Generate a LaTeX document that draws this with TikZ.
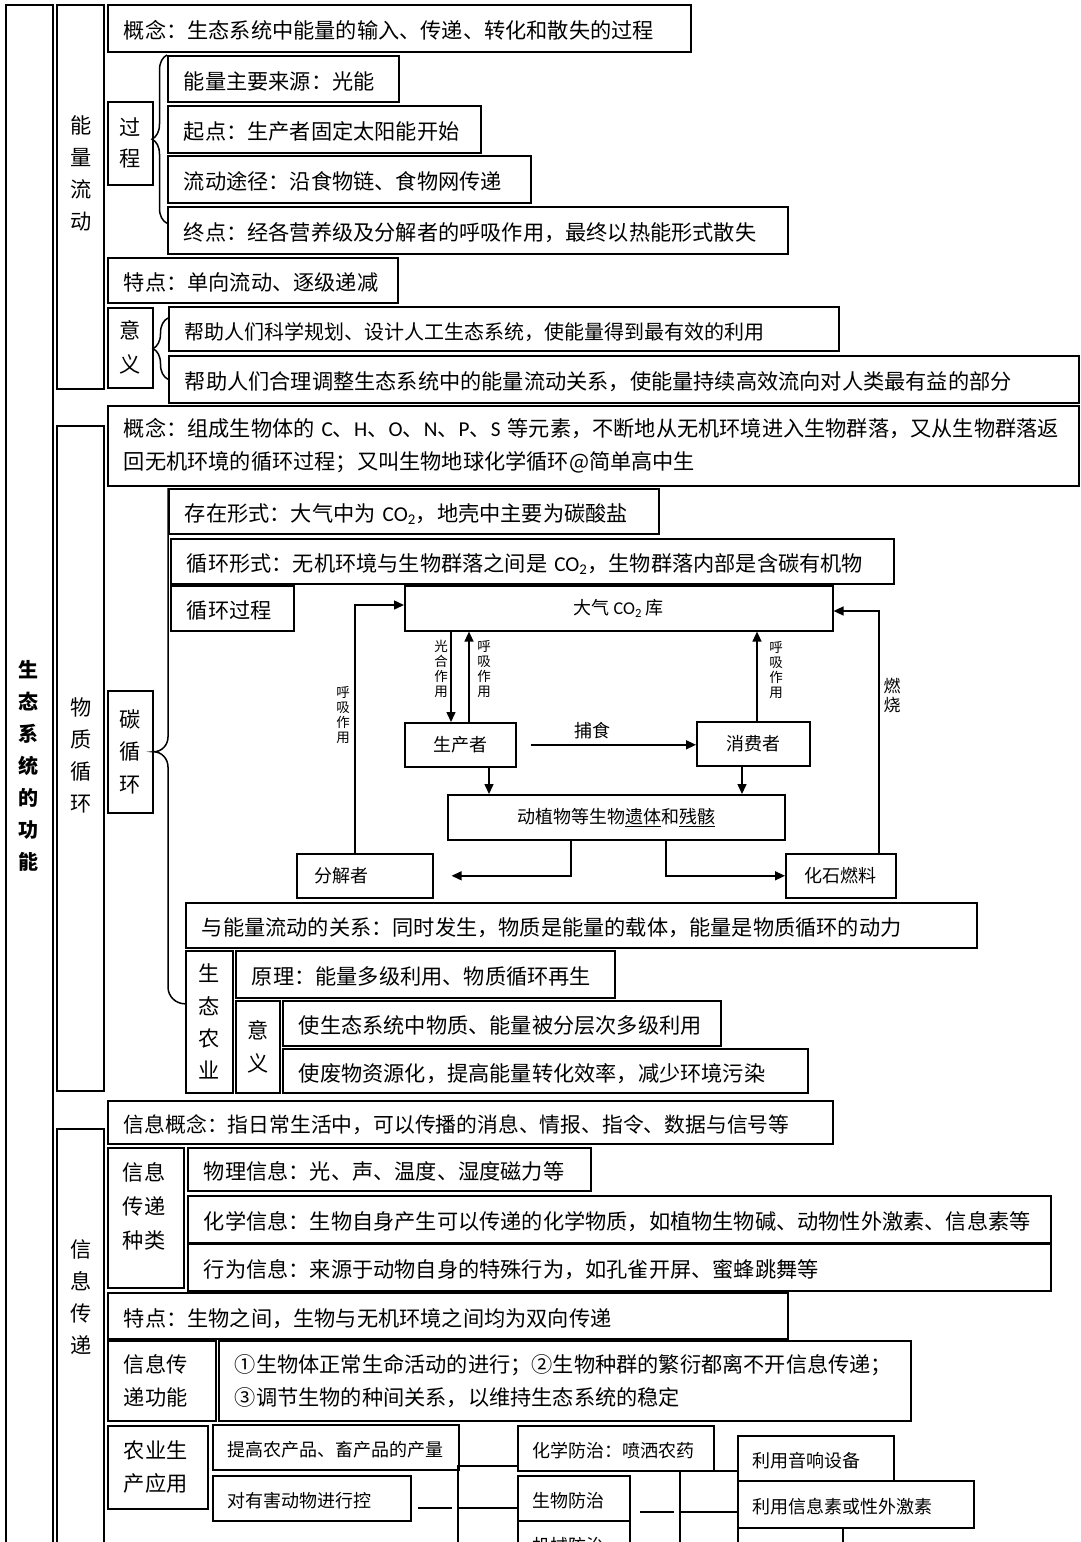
\documentclass[tikz,border=0pt]{standalone}
\usepackage{fontspec}
\setmainfont{Noto Sans CJK SC}
\newfontfamily\calib{Carlito}
\usetikzlibrary{arrows.meta,decorations.pathreplacing}
\newcommand\mainfs{\fontsize{21.2}{33}\selectfont}
\newcommand\smallfs{\fontsize{18}{20}\selectfont}
\newcommand\cotwo{{\calib CO\textsubscript{2}}}
\begin{document}
\begin{tikzpicture}[x=1pt,y=-1pt,
  box/.style={draw,line width=1.6pt,anchor=north west,inner xsep=16pt,inner ysep=0pt,align=left,font=\mainfs,text height=23pt,text depth=2pt},
  multi/.style={text height=,text depth=},
  vbox/.style={draw,line width=1.6pt,anchor=north west,inner sep=0pt,align=center,font=\fontsize{21.2}{32.5}\selectfont},
  col/.style={draw,line width=1.6pt,anchor=north west,minimum width=47pt,inner sep=0pt},
  vt/.style={align=center,inner sep=0pt,font=\fontsize{21.2}{32}\selectfont},
  dbox/.style={draw,line width=1.6pt,anchor=north west,inner sep=0pt,font=\smallfs},
  sbox/.style={draw,line width=1.6pt,anchor=north west,inner xsep=15pt,inner ysep=0pt,align=left,font=\smallfs,text height=20pt,text depth=2pt},
  lbl/.style={align=center,inner sep=0pt,font=\fontsize{13.5}{15}\selectfont},
  arr/.style={line width=1.5pt,-{Triangle[length=10pt,width=9pt]}},
  brc/.style={line width=1.5pt,decorate,decoration={brace,amplitude=15pt}},
  bus/.style={line width=2.2pt}]
  \fill[white] (0,0) rectangle (1080,1542);
  \useasboundingbox (0,0) rectangle (1080,1542);
  \clip (0,0) rectangle (1080,1542);

  \node[col,minimum height=1620pt] (c0) at (5,4) {};
  \node[vt,font=\fontsize{20}{32}\selectfont\bfseries] (c0t) at (29,766) {生\\态\\系\\统\\的\\功\\能};
  \node[col,minimum height=384pt] (c1) at (56,4) {};
  \node[vt] (c1t) at (81,173) {能\\量\\流\\动};
  \node[col,minimum height=665pt] (c2) at (56,425) {};
  \node[vt] (c2t) at (81,755) {物\\质\\循\\环};
  \node[col,minimum height=500pt] (c3) at (56,1128) {};
  \node[vt] (c3t) at (81,1297) {信\\息\\传\\递};

  \node[box,text width=551pt,minimum height=47pt] (gn1) at (107,4) {概念：生态系统中能量的输入、传递、转化和散失的过程};
  \node[vbox,minimum width=45pt,minimum height=83pt,font=\fontsize{21.2}{31}\selectfont] (gc) at (107,101) {过\\程};
  \node[box,text width=199pt,minimum height=46pt] (ly) at (167,55) {能量主要来源：光能};
  \node[box,text width=281pt,minimum height=47pt] (qd) at (167,105) {起点：生产者固定太阳能开始};
  \node[box,text width=331pt,minimum height=47pt] (tj) at (167,155) {流动途径：沿食物链、食物网传递};
  \node[box,text width=588pt,minimum height=47pt] (zd) at (167,206) {终点：经各营养级及分解者的呼吸作用，最终以热能形式散失};
  \draw[brc] ([yshift=7pt]zd.west) -- (ly.north west);
  \node[box,text width=258pt,minimum height=45pt] (td) at (107,257) {特点：单向流动、逐级递减};
  \node[vbox,minimum width=45pt,minimum height=80pt,font=\fontsize{21.2}{34}\selectfont] (yy) at (107,307) {意\\义};
  \node[box,text width=638pt,minimum height=44pt,font=\fontsize{20}{30}\selectfont] (yy1) at (168,306) {帮助人们科学规划、设计人工生态系统，使能量得到最有效的利用};
  \node[box,text width=878pt,minimum height=47pt] (yy2) at (168,355) {帮助人们合理调整生态系统中的能量流动关系，使能量持续高效流向对人类最有益的部分};
  \draw[brc] (yy2.west) -- ([yshift=-12pt]yy1.north west);

  \node[box,multi,text width=939pt,minimum height=80pt] (gn2) at (107,405) {概念：组成生物体的~{\calib C}、{\calib H}、{\calib O}、{\calib N}、{\calib P}、{\calib S}~等元素，不断地从无机环境进入生物群落，又从生物群落返\\回无机环境的循环过程；又叫生物地球化学循环@简单高中生};
  \node[vbox,minimum width=45pt,minimum height=122pt] (tx) at (107,690) {碳\\循\\环};
  \node[box,text width=458pt,minimum height=45pt] (cz) at (168,488) {存在形式：大气中为~\cotwo，地壳中主要为碳酸盐};
  \node[box,text width=691pt,minimum height=45pt] (xs) at (170,538) {循环形式：无机环境与生物群落之间是~\cotwo，生物群落内部是含碳有机物};
  \node[box,text width=91pt,minimum height=45pt] (gc2) at (170,585) {循环过程};

  \node[dbox,minimum width=428pt,minimum height=45pt] (dq) at (404,585) {大气 \cotwo{} 库};
  \node[dbox,minimum width=111pt,minimum height=44pt] (scz) at (404,722) {生产者};
  \node[dbox,minimum width=113pt,minimum height=44pt] (xfz) at (696,721) {消费者};
  \node[dbox,minimum width=337pt,minimum height=45pt] (yt) at (447,794) {动植物等生物\underline{遗体}和\underline{残骸}};
  \node[dbox,minimum height=44pt,text width=100pt,inner xsep=18pt,align=left] (fjz) at (296,853) {分解者};
  \node[dbox,minimum width=110pt,minimum height=44pt] (hs) at (785,853) {化石燃料};
  \coordinate (p1) at (451,0);
  \coordinate (p2) at (469,0);
  \coordinate (p4) at (489,0);
  \coordinate (p5) at (742,0);
  \coordinate (p6) at (757,0);
  \coordinate (r1) at (355,605);
  \coordinate (r2) at (879,611);
  \coordinate (p7) at (571,0);
  \coordinate (p8) at (666,0);
  \draw[arr] (dq.south -| p1) -- (scz.north -| p1);
  \draw[arr] (scz.north -| p2) -- (dq.south -| p2);
  \draw[arr,shorten <=14pt] (scz.east) -- (scz.east -| xfz.west);
  \draw[arr] (scz.south -| p4) -- (yt.north -| p4);
  \draw[arr] (xfz.south -| p5) -- (yt.north -| p5);
  \draw[arr] (xfz.north -| p6) -- (dq.south -| p6);
  \draw[arr] (fjz.north -| r1) |- (dq.west |- r1);
  \draw[arr] (hs.north -| r2) |- (dq.east |- r2);
  \draw[arr,shorten >=18pt] (yt.south -| p7) |- (fjz.east);
  \draw[arr] (yt.south -| p8) |- (hs.west);
  \node[lbl] (lgh) at (441,669) {光\\合\\作\\用};
  \node[lbl] (lhx1) at (484,669) {呼\\吸\\作\\用};
  \node[lbl] (lhx2) at (776,670) {呼\\吸\\作\\用};
  \node[lbl] (lhx3) at (343,715) {呼\\吸\\作\\用};
  \node[lbl,font=\fontsize{17}{19}\selectfont] (lrs) at (892,695) {燃\\烧};
  \node[inner sep=0pt,font=\smallfs] (lbs) at (592,731) {捕食};

  \node[box,text width=759pt,minimum height=45pt] (gx) at (185,902) {与能量流动的关系：同时发生，物质是能量的载体，能量是物质循环的动力};
  \node[vbox,minimum width=47pt,minimum height=142pt,font=\fontsize{21.2}{32.3}\selectfont] (nz) at (185,950) {生\\态\\农\\业};
  \node[box,text width=347pt,minimum height=47pt] (yl) at (235,950) {原理：能量多级利用、物质循环再生};
  \node[vbox,minimum width=44pt,minimum height=92pt,font=\fontsize{21.2}{33}\selectfont] (yy3) at (235,1000) {意\\义};
  \node[box,text width=406pt,minimum height=45pt] (sy1) at (282,1000) {使生态系统中物质、能量被分层次多级利用};
  \node[box,text width=493pt,minimum height=44pt] (sy2) at (282,1048) {使废物资源化，提高能量转化效率，减少环境污染};
  \draw[line width=1.5pt] (cz.north west) -- (168,737) to[out=270,in=0] (tx.east) to[out=0,in=90] (168,767) -- (168,987) to[out=270,in=180] ([yshift=18pt]nz.west);

  \node[box,text width=693pt,minimum height=43pt,font=\fontsize{20.8}{33}\selectfont] (xg) at (107,1100) {信息概念：指日常生活中，可以传播的消息、情报、指令、数据与信号等};
  \node[col,minimum width=76pt,minimum height=140pt] (zl) at (107,1147) {};
  \node[vt,align=left,font=\fontsize{21.2}{34}\selectfont] (zlt) at (144,1206) {信息\\传递\\种类};
  \node[box,text width=371pt,minimum height=43pt] (wl) at (187,1147) {物理信息：光、声、温度、湿度磁力等};
  \node[box,text width=831pt,minimum height=47pt] (hx) at (187,1195) {化学信息：生物自身产生可以传递的化学物质，如植物生物碱、动物性外激素、信息素等};
  \node[box,text width=831pt,minimum height=47pt] (xw) at (187,1243) {行为信息：来源于动物自身的特殊行为，如孔雀开屏、蜜蜂跳舞等};
  \node[box,text width=648pt,minimum height=46pt] (td2) at (107,1292) {特点：生物之间，生物与无机环境之间均为双向传递};
  \node[box,multi,text width=76pt,minimum height=80pt] (gnl) at (107,1340) {信息传\\递功能};
  \node[box,multi,text width=660pt,minimum height=80pt] (gnn) at (218,1340) {①生物体正常生命活动的进行；②生物种群的繁衍都离不开信息传递；\\③调节生物的种间关系，以维持生态系统的稳定};
  \node[box,multi,text width=68pt,minimum height=83pt] (ny) at (107,1425) {农业生\\产应用};
  \node[sbox,text width=216pt,minimum height=45pt] (tg) at (212,1424) {提高农产品、畜产品的产量};
  \node[sbox,text width=168pt,minimum height=45pt] (yh) at (212,1475) {对有害动物进行控};
  \node[sbox,text width=166pt,minimum height=45pt] (hf) at (517,1425) {化学防治：喷洒农药};
  \node[sbox,text width=82pt,minimum height=45pt] (sf) at (517,1475) {生物防治};
  \node[sbox,text width=82pt,minimum height=45pt] (jf) at (517,1520) {机械防治};
  \node[sbox,text width=126pt,minimum height=45pt] (yx) at (737,1435) {利用音响设备};
  \node[sbox,text width=206pt,minimum height=47pt] (xs2) at (737,1480) {利用信息素或性外激素};
  \node[sbox,minimum width=105pt,minimum height=45pt] (nx) at (737,1527) {};
  \coordinate (d1a) at (418,1508);
  \coordinate (d1b) at (452,1508);
  \coordinate (b1t) at (458,1466);
  \coordinate (b1m) at (458,1508);
  \coordinate (b1b) at (458,1560);
  \coordinate (d2a) at (640,1512);
  \coordinate (d2b) at (674,1512);
  \coordinate (b2t) at (680,1471);
  \coordinate (b2m) at (680,1512);
  \coordinate (b2b) at (680,1560);
  \draw[bus] (d1a) -- (d1b);
  \draw[bus] (b1b) -- (b1t) -- (hf.west |- b1t);
  \draw[bus] (b1m) -- (sf.west |- b1m);
  \draw[bus] (d2a) -- (d2b);
  \draw[bus] (b2b) -- (b2t) -- (yx.west |- b2t);
  \draw[bus] (b2m) -- (xs2.west |- b2m);
\end{tikzpicture}
\end{document}
